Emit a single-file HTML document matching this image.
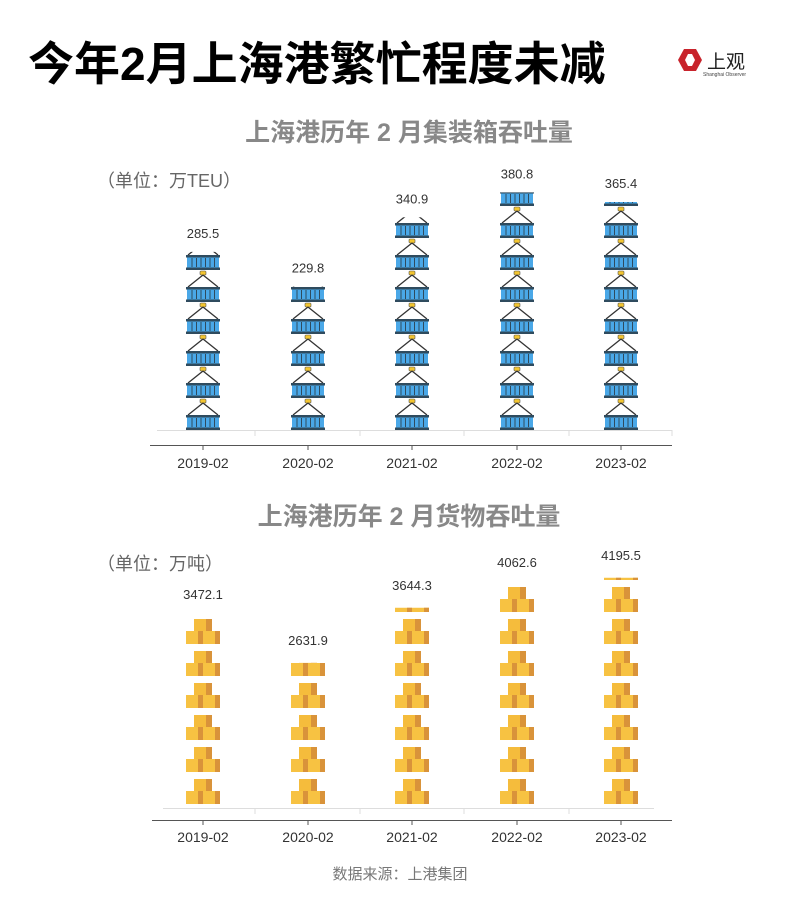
<!DOCTYPE html>
<html><head><meta charset="utf-8"><style>
body{margin:0;background:#fff;}
svg{display:block;font-family:"Liberation Sans","Noto Sans CJK SC",sans-serif;}
</style></head><body>
<svg width="800" height="898" viewBox="0 0 800 898" xmlns="http://www.w3.org/2000/svg">
<defs>
<g id="cont">
  <rect x="-3" y="-31" width="6" height="4" rx="1" fill="#f3c530" stroke="#555" stroke-width="0.6"/>
  <path d="M0 -27 L-15 -15 M0 -27 L15 -15" stroke="#333" stroke-width="1.3" fill="none"/>
  <rect x="-17" y="-15" width="34" height="2.5" fill="#2f4b5e"/>
  <rect x="-16" y="-12.5" width="32" height="10" fill="#4aa8e8"/>
  <path d="M-11 -12 V-3 M-6.5 -12 V-3 M-2 -12 V-3 M2.5 -12 V-3 M7 -12 V-3 M11.5 -12 V-3" stroke="#2f4b5e" stroke-width="1"/>
  <rect x="-17" y="-2.5" width="34" height="2.5" fill="#2f4b5e"/>
</g>
<g id="box">
  <rect x="-9" y="-27" width="18" height="13" fill="#f5bc3c"/>
  <rect x="3" y="-27" width="6" height="13" fill="#d9933a"/>
  <rect x="-17" y="-15" width="17" height="13" fill="#f7c242"/>
  <rect x="-5" y="-15" width="5" height="13" fill="#d9933a"/>
  <rect x="0" y="-15" width="17" height="13" fill="#f7c242"/>
  <rect x="12" y="-15" width="5" height="13" fill="#d9933a"/>
</g>
</defs>
<text x="28" y="80" font-size="46" font-weight="bold" fill="#000">今年2月上海港繁忙程度未减</text>
<polygon points="678,60 684,49 696,49 702,60 696,71 684,71" fill="#c8242c"/>
<polygon points="685,60 688,54 692,54 695,60 692,66 688,66" fill="#fff"/>
<text x="707" y="68" font-size="19" fill="#222">上观</text>
<text x="703" y="76" font-size="5" fill="#444">Shanghai Observer</text>

<text x="409" y="141" font-size="25" font-weight="bold" fill="#888" text-anchor="middle">上海港历年 2 月集装箱吞吐量</text>
<text x="97" y="187" font-size="18" fill="#666">（单位：万TEU）</text>

<text x="409" y="525" font-size="25" font-weight="bold" fill="#888" text-anchor="middle">上海港历年 2 月货物吞吐量</text>
<text x="97" y="570" font-size="18" fill="#666">（单位：万吨）</text>

<g id="top"></g>
<g id="bot"></g>

<line x1="157" y1="430.5" x2="672" y2="430.5" stroke="#ddd" stroke-width="1"/>
<path d="M255 430 V436 M360 430 V436 M464 430 V436 M569 430 V436 M672 430 V436" stroke="#ddd"/>
<line x1="150" y1="445.5" x2="672" y2="445.5" stroke="#555" stroke-width="1"/>
<path d="M203 445 V450 M308 445 V450 M412 445 V450 M517 445 V450 M621 445 V450" stroke="#555"/>
<g font-size="14" fill="#333" text-anchor="middle">
<text x="203" y="468">2019-02</text><text x="308" y="468">2020-02</text><text x="412" y="468">2021-02</text><text x="517" y="468">2022-02</text><text x="621" y="468">2023-02</text>
</g>
<line x1="163" y1="808.5" x2="654" y2="808.5" stroke="#ddd"/>
<path d="M255 808 V814 M360 808 V814 M464 808 V814 M569 808 V814" stroke="#ddd"/>
<line x1="152" y1="820.5" x2="672" y2="820.5" stroke="#555"/>
<path d="M203 820 V825 M308 820 V825 M412 820 V825 M517 820 V825 M621 820 V825" stroke="#555"/>
<g font-size="14" fill="#333" text-anchor="middle">
<text x="203" y="842">2019-02</text><text x="308" y="842">2020-02</text><text x="412" y="842">2021-02</text><text x="517" y="842">2022-02</text><text x="621" y="842">2023-02</text>
</g>
<text x="400" y="879" font-size="15" fill="#777" text-anchor="middle">数据来源：上港集团</text>
</svg>
<script>
var ns="http://www.w3.org/2000/svg";var svg=document.querySelector('svg');
var xs=[203,308,412,517,621];
function draw(vals,base,scale,sym,labelOff,id){
 var g=document.getElementById(id),defs=svg.querySelector('defs');
 vals.forEach(function(v,i){
  var h=v*scale,top=base-h;
  var cp=document.createElementNS(ns,'clipPath');cp.id=id+i;
  var r=document.createElementNS(ns,'rect');r.setAttribute('x',xs[i]-25);r.setAttribute('y',top);r.setAttribute('width',50);r.setAttribute('height',h);
  cp.appendChild(r);defs.appendChild(cp);
  var gg=document.createElementNS(ns,'g');gg.setAttribute('clip-path','url(#'+id+i+')');
  for(var y=base;y>top-32;y-=32){var u=document.createElementNS(ns,'use');u.setAttribute('href','#'+sym);u.setAttribute('x',xs[i]);u.setAttribute('y',y);gg.appendChild(u);}
  g.appendChild(gg);
  var t=document.createElementNS(ns,'text');t.setAttribute('x',xs[i]);t.setAttribute('y',top-labelOff);t.setAttribute('font-size','13');t.setAttribute('fill','#333');t.setAttribute('text-anchor','middle');t.textContent=v.toFixed(1);g.appendChild(t);
 });
}
draw([285.5,229.8,340.9,380.8,365.4],430,0.624,'cont',14,'top');
draw([3472.1,2631.9,3644.3,4062.6,4195.5],806,0.0544,'box',18,'bot');
</script>
</body></html>
